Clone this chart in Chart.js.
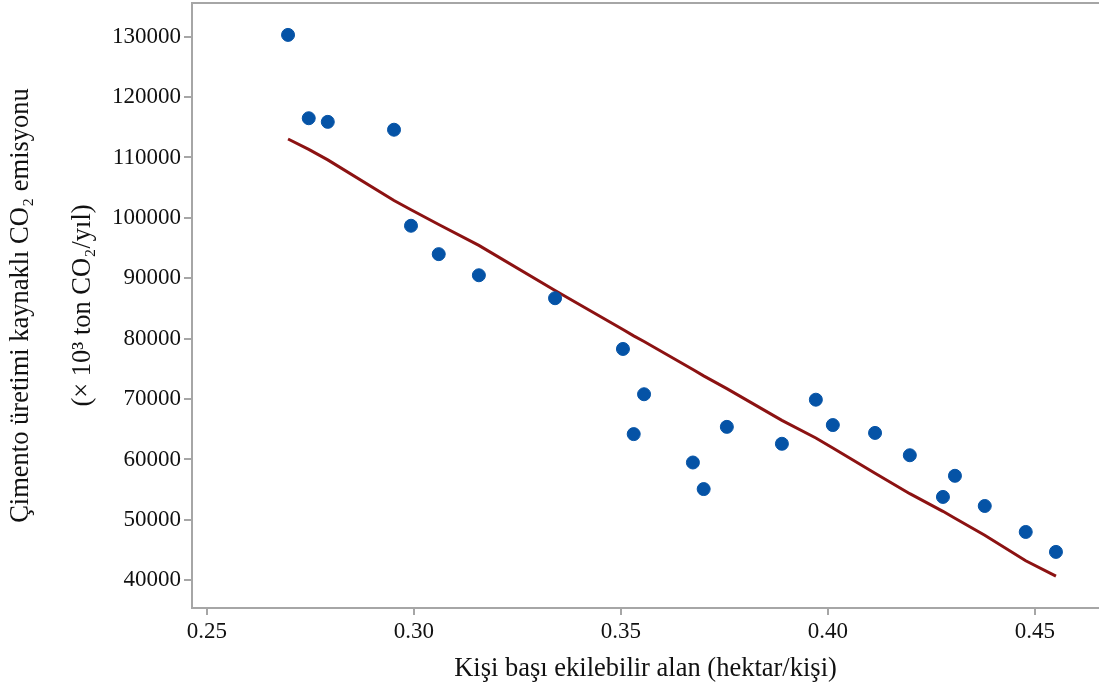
<!DOCTYPE html>
<html>
<head>
<meta charset="utf-8">
<script src="https://cdn.jsdelivr.net/npm/chart.js@4/dist/chart.umd.min.js"></script>
<style>
html,body{margin:0;padding:0;background:#fff;}
#wrap{width:1099px;height:688px;}
</style>
</head>
<body>
<div id="wrap"><canvas id="c" width="1099" height="688"></canvas></div>
<script>
// Observed data (x: cultivable area per person, y: cement CO2 emission)
const areaPerPerson = [0.2696, 0.2746, 0.2792, 0.2952, 0.2993, 0.3060, 0.3157, 0.3341,
  0.3505, 0.3531, 0.3556, 0.3674, 0.3700, 0.3756, 0.3889, 0.3971, 0.4012, 0.4114,
  0.4198, 0.4278, 0.4307, 0.4379, 0.4478, 0.4551];
const emission = [130300, 116500, 115900, 114600, 98700, 94000, 90500, 86700,
  78300, 64200, 70800, 59500, 55100, 65400, 62600, 69900, 65700, 64400,
  60700, 53800, 57300, 52300, 48000, 44700];
// Fitted curve values at the same x positions
const fitted = [113060, 111340, 109600, 102890, 101340, 98900, 95440, 87990,
  81510, 80470, 79530, 74900, 73850, 71740, 66480, 63550, 61900, 57730,
  54340, 51420, 50280, 47450, 43230, 40690];
const xTicks = [0.25, 0.30, 0.35, 0.40, 0.45];
const yTicks = [40000, 50000, 60000, 70000, 80000, 90000, 100000, 110000, 120000, 130000];

const xTitle = 'Kişi başı ekilebilir alan (hektar/kişi)';
const yTitle = ['Çimento üretimi kaynaklı CO₂ emisyonu', '(× 10³ ton CO₂/yıl)'];

const scatterPts = areaPerPerson.map((x, i) => ({x: x, y: emission[i]}));
const linePts = areaPerPerson.map((x, i) => ({x: x, y: fitted[i]}));

const AXIS = '#a6a6a6';
const FONT = 'Liberation Serif';

const topBorder = {
  id: 'topBorder',
  afterDraw(chart) {
    const {ctx, chartArea} = chart;
    ctx.save();
    ctx.strokeStyle = AXIS;
    ctx.lineWidth = 2;
    ctx.beginPath();
    ctx.moveTo(chartArea.left, chartArea.top);
    ctx.lineTo(chart.width, chartArea.top);
    ctx.stroke();
    ctx.restore();
  }
};

new Chart(document.getElementById('c'), {
  type: 'scatter',
  data: {
    datasets: [
      {
        type: 'line',
        data: linePts,
        borderColor: '#8c1212',
        borderWidth: 3,
        pointRadius: 0,
        fill: false,
        tension: 0,
        order: 2
      },
      {
        data: scatterPts,
        backgroundColor: '#0553a6',
        borderColor: '#0553a6',
        pointRadius: 6.5,
        pointHoverRadius: 6.5,
        order: 1
      }
    ]
  },
  options: {
    responsive: false,
    animation: false,
    devicePixelRatio: 1,
    layout: {autoPadding: false, padding: {top: 3, right: 0, left: 0, bottom: 0}},
    plugins: {legend: {display: false}, tooltip: {enabled: false}},
    scales: {
      x: {
        type: 'linear',
        min: 0.2464,
        max: 0.4655,
        afterBuildTicks(scale) { scale.ticks = xTicks.map(v => ({value: v})); },
        afterFit(scale) { scale.height = 80; scale.paddingLeft = 0; scale.paddingRight = 0; },
        ticks: {
          callback: v => v.toFixed(2),
          font: {family: FONT, size: 23},
          color: '#111',
          padding: 3,
          maxRotation: 0,
          autoSkip: false
        },
        grid: {drawOnChartArea: false, tickLength: 7, color: AXIS, lineWidth: 2},
        border: {color: AXIS, width: 2},
        title: {
          display: true,
          text: xTitle,
          font: {family: FONT, size: 26.5},
          color: '#111',
          padding: {top: 0, bottom: 3}
        }
      },
      y: {
        type: 'linear',
        min: 35410,
        max: 135580,
        afterBuildTicks(scale) { scale.ticks = yTicks.map(v => ({value: v})); },
        afterFit(scale) { scale.width = 192; scale.paddingTop = 0; scale.paddingBottom = 0; },
        ticks: {
          callback: v => String(v),
          font: {family: FONT, size: 23},
          color: '#111',
          padding: 3,
          autoSkip: false
        },
        grid: {drawOnChartArea: false, tickLength: 8, color: AXIS, lineWidth: 2},
        border: {color: AXIS, width: 2},
        title: {
          display: true,
          text: yTitle,
          font: {family: FONT, size: 26.5, lineHeight: 2.35},
          color: '#111',
          padding: {top: -10, bottom: 0}
        }
      }
    }
  },
  plugins: [topBorder]
});
</script>
</body>
</html>
